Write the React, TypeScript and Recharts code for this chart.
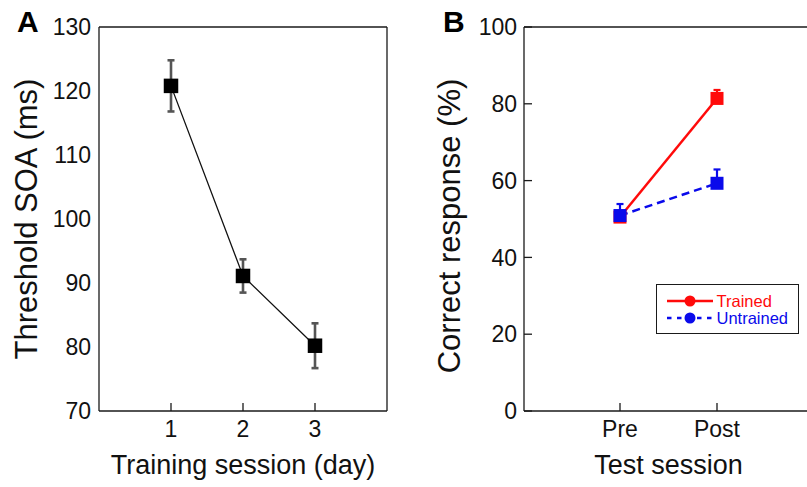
import { ErrorBar, Label, Legend, Line, LineChart, ReferenceLine, XAxis, YAxis } from 'recharts';

const FONT = '"Liberation Sans", Arial, Helvetica, sans-serif';
const INK = '#1a1a1a';

// panel A: threshold SOA per training day
const trainingDays = [1, 2, 3];
const thresholdSoa = [120.8, 91.1, 80.2];
const thresholdSoaErr = [4.0, 2.6, 3.5];
const soaTicks = [70, 80, 90, 100, 110, 120, 130];

// panel B: correct response before / after training
const testSessions = ['Pre', 'Post'];
const trainedCorrect = [50.5, 81.4];
const trainedErr = [1.5, 2.2];
const untrainedCorrect = [50.9, 59.3];
const untrainedErr = [3.0, 3.6];
const correctTicks = [0, 20, 40, 60, 80, 100];

const RED = '#ff0a0a';
const BLUE = '#0a0aeb';

const soaData = trainingDays.map((day, i) => ({
  day,
  soa: thresholdSoa[i],
  soaErr: thresholdSoaErr[i],
}));

const sessionData = testSessions.map((session, i) => ({
  session,
  trained: trainedCorrect[i],
  trainedErr: [0, trainedErr[i]],
  untrained: untrainedCorrect[i],
  untrainedErr: [0, untrainedErr[i]],
}));

const tickStyle = { fill: '#111', fontSize: 23, fontFamily: FONT };
const axisStroke = { stroke: INK, strokeWidth: 1.3 };

function squareDot(size: number, fill: string) {
  return (props: any) => {
    const { cx, cy, index } = props;
    if (cx == null || cy == null) return <g key={`sq-${index}`} />;
    return (
      <rect key={`sq-${index}`} x={cx - size / 2} y={cy - size / 2} width={size} height={size} fill={fill} />
    );
  };
}

function VerticalTitle({ viewBox, text, baseline, shift }: any) {
  const cy = viewBox.y + viewBox.height / 2 + shift;
  return (
    <text
      x={baseline}
      y={cy}
      transform={`rotate(-90 ${baseline} ${cy})`}
      textAnchor="middle"
      fill="#111"
      fontSize={31}
      fontFamily={FONT}
    >
      {text}
    </text>
  );
}

function SessionLegend({ payload }: any) {
  return (
    <div
      style={{
        boxSizing: 'border-box',
        width: 143,
        height: 50,
        border: `1.5px solid ${INK}`,
        paddingTop: 7,
        paddingLeft: 9.5,
        background: '#fff',
      }}
    >
      {(payload ?? []).map((entry: any) => (
        <div
          key={entry.value}
          style={{
            display: 'flex',
            alignItems: 'center',
            height: 17,
            lineHeight: '16px',
            color: entry.color,
            fontSize: 16.5,
            fontFamily: FONT,
          }}
        >
          <svg width={46} height={12} style={{ marginRight: 4 }}>
            <line
              x1={0}
              y1={6}
              x2={46}
              y2={6}
              stroke={entry.color}
              strokeWidth={2.5}
              strokeDasharray={entry.payload?.strokeDasharray ? '4.5 5.5' : undefined}
            />
            <circle cx={23} cy={6} r={5.5} fill={entry.color} />
          </svg>
          <span>{entry.value}</span>
        </div>
      ))}
    </div>
  );
}

export default function App() {
  return (
    <div
      style={{
        position: 'absolute',
        left: 0,
        top: 0,
        width: 807,
        height: 487,
        overflow: 'hidden',
        background: '#fff',
        fontFamily: FONT,
      }}
    >
      <div style={{ position: 'absolute', left: 0, top: 0 }}>
        <LineChart width={400} height={487} data={soaData} margin={{ top: 27, right: 13, bottom: 0, left: 0 }}>
          <XAxis
            dataKey="day"
            type="number"
            domain={[0, 4]}
            ticks={trainingDays}
            interval={0}
            height={76}
            tickSize={-8}
            tickMargin={18}
            axisLine={axisStroke}
            tickLine={axisStroke}
            tick={tickStyle}
          >
            <Label value="Training session (day)" position="insideBottom" offset={13} fill="#111" fontSize={27} fontFamily={FONT} />
          </XAxis>
          <YAxis
            type="number"
            domain={[70, 130]}
            ticks={soaTicks}
            interval={0}
            width={99}
            tickLine={false}
            tickSize={0}
            tickMargin={8}
            axisLine={axisStroke}
            tick={tickStyle}
          >
            <Label
              value="Threshold SOA (ms)"
              content={(p: any) => <VerticalTitle {...p} text="Threshold SOA (ms)" baseline={36.5} shift={0} />}
            />
          </YAxis>
          <ReferenceLine y={130} {...axisStroke} />
          <ReferenceLine x={4} {...axisStroke} />
          <Line
            dataKey="soa"
            stroke="#111"
            strokeWidth={1.3}
            dot={squareDot(14.5, '#000')}
            activeDot={false}
            isAnimationActive={false}
          >
            <ErrorBar dataKey="soaErr" width={3.5} stroke="#555" strokeWidth={2.6} />
          </Line>
        </LineChart>
      </div>

      <div style={{ position: 'absolute', left: 420, top: 0 }}>
        <LineChart width={393} height={487} data={sessionData} margin={{ top: 27, right: 0, bottom: 0, left: 0 }}>
          <XAxis
            dataKey="session"
            padding={{ left: 96, right: 96 }}
            interval={0}
            height={76}
            tickSize={-8}
            tickMargin={18}
            axisLine={axisStroke}
            tickLine={axisStroke}
            tick={tickStyle}
          >
            <Label value="Test session" position="insideBottom" offset={13} fill="#111" fontSize={27} fontFamily={FONT} />
          </XAxis>
          <YAxis
            type="number"
            domain={[0, 100]}
            ticks={correctTicks}
            interval={0}
            width={104}
            tickSize={-8}
            tickMargin={15}
            axisLine={axisStroke}
            tickLine={axisStroke}
            tick={tickStyle}
          >
            <Label
              value="Correct response (%)"
              content={(p: any) => <VerticalTitle {...p} text="Correct response (%)" baseline={40} shift={7} />}
            />
          </YAxis>
          <ReferenceLine y={100} {...axisStroke} />
          <Legend
            verticalAlign="middle"
            align="center"
            content={<SessionLegend />}
            wrapperStyle={{ left: 236, top: 284, width: 143, height: 50 }}
          />
          <Line
            name="Trained"
            dataKey="trained"
            stroke={RED}
            strokeWidth={2.5}
            dot={squareDot(13, RED)}
            activeDot={false}
            isAnimationActive={false}
          >
            <ErrorBar dataKey="trainedErr" width={3.5} stroke={RED} strokeWidth={2.2} />
          </Line>
          <Line
            name="Untrained"
            dataKey="untrained"
            stroke={BLUE}
            strokeWidth={2.5}
            strokeDasharray="8 5"
            dot={squareDot(13, BLUE)}
            activeDot={false}
            isAnimationActive={false}
          >
            <ErrorBar dataKey="untrainedErr" width={3.5} stroke={BLUE} strokeWidth={2.2} />
          </Line>
        </LineChart>
      </div>

      <div style={{ position: 'absolute', left: 17, top: 6.5, fontSize: 30, fontWeight: 700, lineHeight: '30px' }}>A</div>
      <div style={{ position: 'absolute', left: 443, top: 6.5, fontSize: 30, fontWeight: 700, lineHeight: '30px' }}>B</div>
    </div>
  );
}
